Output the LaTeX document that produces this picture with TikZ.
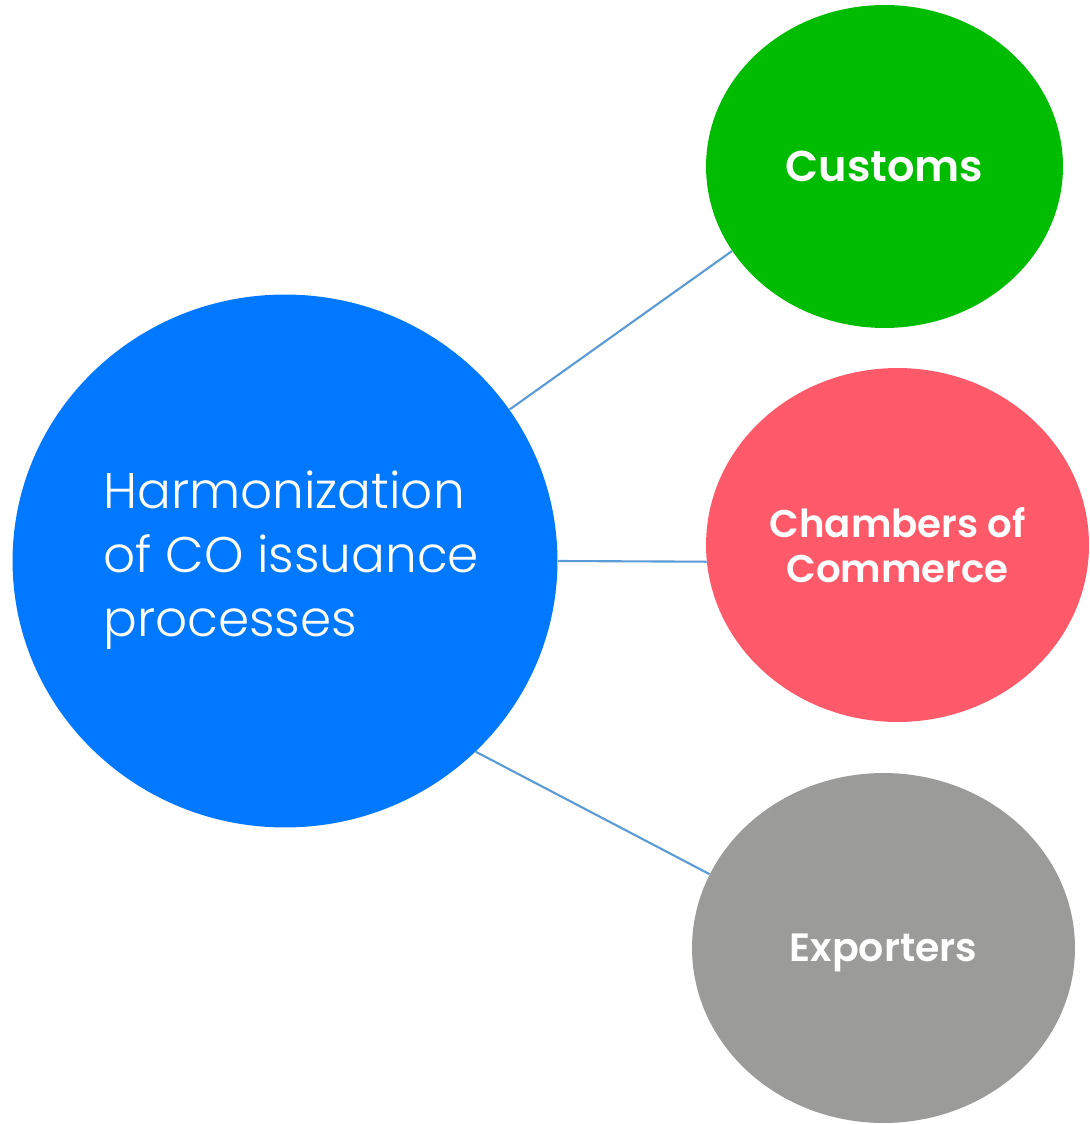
\documentclass[tikz,border=0pt]{standalone}
\usepackage{fontspec}
\setmainfont{Poppins}
\IfFontExistsTF{Poppins Light}
  {\newfontfamily\hubfont{Poppins Light}}
  {\newfontfamily\hubfont{Poppins}}
\IfFontExistsTF{Poppins SemiBold}
  {\newfontfamily\partyfont{Poppins SemiBold}}
  {\newfontfamily\partyfont{Poppins}[UprightFont=*, BoldFont=*-Bold]}
\usetikzlibrary{shapes.geometric}

\definecolor{hubblue}{HTML}{0078FF}
\definecolor{customsgreen}{HTML}{00BC00}
\definecolor{chamberred}{HTML}{FF5A6A}
\definecolor{exportgrey}{HTML}{9B9B99}
\definecolor{linkblue}{HTML}{5B9BD5}

\tikzset{
  party/.style={ellipse,inner sep=0pt,text=white,align=center,
    font=\partyfont\fontsize{24.5}{30}\selectfont},
  link/.style={draw=linkblue,line width=1.2pt}
}

\begin{document}
\begin{tikzpicture}[x=0.02cm,y=-0.02cm]
	\useasboundingbox (0,0) rectangle (1089,1124);

	\node[ellipse,inner sep=0pt,fill=hubblue,
		minimum width=10.9cm,minimum height=10.66cm] (hub) at (285,561) {};
	\node[inner sep=0pt,text=white,align=left,anchor=west,
		font=\hubfont\fontsize{28.5}{36.4}\selectfont] (hubtext) at (103,560)
		{Harmonization\\of CO issuance\\processes};

	\node[party,fill=customsgreen,minimum width=7.14cm,minimum height=6.46cm]
		(customs) at (884.5,166.5) {Customs};
	\node[party,fill=chamberred,minimum width=7.66cm,minimum height=7.08cm,
		font=\partyfont\fontsize{22}{26}\selectfont]
		(chambers) at (897.5,545) {Chambers of\\Commerce};
	\node[party,fill=exportgrey,minimum width=7.66cm,minimum height=7.0cm,
		text depth=0pt,font=\partyfont\fontsize{22.5}{27}\selectfont]
		(exporters) at (883.5,948) {Exporters};

	\draw[link] (hub.34) -- (customs.209);
	\draw[link] (hub.0) -- (chambers.185);
	\draw[link] (hub.-45) -- (exporters.157);
\end{tikzpicture}
\end{document}
